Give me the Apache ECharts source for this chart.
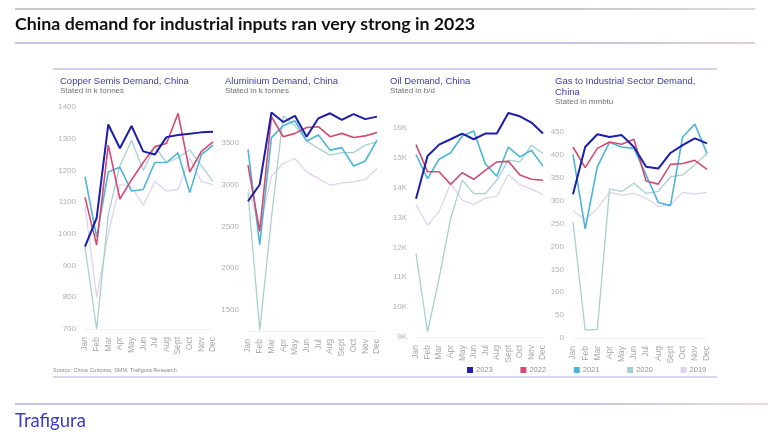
<!DOCTYPE html>
<html><head><meta charset="utf-8">
<script src="https://cdn.jsdelivr.net/npm/echarts@6/dist/echarts.min.js"></script>
<style>html,body{margin:0;padding:0;background:#fff}#c{width:768px;height:436px}</style>
</head><body><div id="c"></div>
<script>
const months = ['Jan','Feb','Mar','Apr','May','Jun','Jul','Aug','Sept','Oct','Nov','Dec'];
const years = ['2023','2022','2021','2020','2019'];
const colors = ['#1e1ea8','#d24b72','#4cb6d8','#a6d0d0','#e0d2ee'];
const widths = [2, 1.6, 1.6, 1.3, 1.3];

const copper2023 = [960,1050,1345,1270,1340,1260,1250,1305,1312,1316,1320,1322];
const copper2022 = [1115,965,1280,1110,1170,1225,1275,1285,1380,1195,1260,1290];
const copper2021 = [1180,990,1195,1210,1135,1140,1225,1225,1255,1130,1250,1280];
const copper2020 = [960,700,1060,1215,1295,1200,1275,1225,1240,1265,1215,1165];
const copper2019 = [1090,800,1000,1155,1150,1090,1165,1135,1140,1240,1165,1155];

const alu2023 = [2800,3000,3860,3745,3820,3570,3790,3850,3770,3840,3780,3810];
const alu2022 = [3230,2440,3810,3570,3610,3680,3690,3570,3610,3560,3580,3620];
const alu2021 = [3420,2280,3560,3700,3760,3520,3590,3410,3440,3220,3280,3530];
const alu2020 = [2900,1260,2600,3820,3700,3520,3430,3350,3380,3380,3470,3510];
const alu2019 = [2950,2500,3100,3250,3310,3150,3070,2990,3020,3030,3060,3190];

const oil2023 = [13630,15060,15440,15620,15810,15620,15810,15810,16500,16390,16180,15810];
const oil2022 = [15440,14530,14530,14110,14500,14280,14580,14860,14880,14420,14280,14250];
const oil2021 = [15110,14300,14950,15170,15730,15900,14800,14380,15360,15030,15250,14720];
const oil2020 = [11790,9170,10960,12960,14250,13800,13800,14250,14920,14860,15420,15140];
const oil2019 = [13430,12740,13190,14140,13580,13430,13650,13710,14440,14100,13950,13770];

const gas2023 = [314,417,445,439,443,417,374,370,404,421,436,425];
const gas2022 = [417,372,414,428,423,434,343,336,379,381,388,368];
const gas2021 = [401,238,374,427,417,414,356,296,289,439,467,403];
const gas2020 = [254,17,19,325,320,338,316,320,352,356,378,403];
const gas2019 = [278,258,283,318,312,316,305,287,291,318,314,318];

const panels = [
  {title:['Copper Semis Demand, China'], sub:'Stated in k tonnes', tx:60,
   grid:{left:85, top:107, width:128, height:222}, min:700, max:1400, interval:100, showMax:true,
   data:[copper2023,copper2022,copper2021,copper2020,copper2019]},
  {title:['Aluminium Demand, China'], sub:'Stated in k tonnes', tx:225,
   grid:{left:248, top:107, width:129, height:224}, min:1250, max:3925, split:5, hideMin:true,
   data:[alu2023,alu2022,alu2021,alu2020,alu2019]},
  {title:['Oil Demand, China'], sub:'Stated in b/d', tx:390,
   grid:{left:416, top:107, width:127, height:230}, min:9000, max:16700, interval:1000, k:true,
   data:[oil2023,oil2022,oil2021,oil2020,oil2019]},
  {title:['Gas to Industrial Sector Demand,','China'], sub:'Stated in mmbtu', tx:555,
   grid:{left:573, top:109, width:134, height:229}, min:0, max:500, interval:50,
   data:[gas2023,gas2022,gas2021,gas2020,gas2019]}
];

const grids=[], xAxes=[], yAxes=[], series=[], graphics=[];
panels.forEach((p,i)=>{
  grids.push(Object.assign({containLabel:false}, p.grid));
  xAxes.push({type:'category', gridIndex:i, data:months, boundaryGap:false,
    axisLine:{show:true, lineStyle:{color:'#f0f0f0'}}, axisTick:{show:false},
    axisLabel:{rotate:90, interval:0, fontSize:8.5, color:'#a8a8a8', margin:8, fontFamily:'Liberation Sans'},
    splitLine:{show:false}});
  const y = {type:'value', gridIndex:i, min:p.min, max:p.max,
    axisLine:{show:false}, axisTick:{show:false}, splitLine:{show:false},
    axisLabel:{fontSize:8, color:'#b0b0b0', margin:9, fontFamily:'Liberation Sans',
      showMinLabel: !p.hideMin, showMaxLabel: !!p.showMax,
      formatter: p.k ? (v=>(v/1000)+'K') : (v=>String(v))}};
  if (p.interval) y.interval = p.interval; else y.splitNumber = p.split;
  yAxes.push(y);
  for (let s=4; s>=0; s--) {
    series.push({name:years[s], type:'line', xAxisIndex:i, yAxisIndex:i, data:p.data[s],
      showSymbol:false, symbol:'none', z:10-s, color:colors[s],
      lineStyle:{width:widths[s], color:colors[s]}, emphasis:{disabled:true}, animation:false});
  }
  p.title.forEach((t,j)=>{
    graphics.push({type:'text', left:p.tx, top:76+j*11, style:{text:t, fontSize:9.5, fill:'#3c3ca8', fontFamily:'Liberation Sans'}});
  });
  graphics.push({type:'text', left:p.tx, top:76+p.title.length*11, style:{text:p.sub, fontSize:8, fill:'#707070', fontFamily:'Liberation Sans'}});
});

function hline(x1,x2,y,c1,c2,w){
  return {type:'line', shape:{x1:x1,y1:y,x2:x2,y2:y}, style:{lineWidth:w,
    stroke: c2 ? new echarts.graphic.LinearGradient(0,0,1,0,[{offset:0,color:c1},{offset:0.75,color:c1},{offset:1,color:c2}]) : c1}};
}
graphics.push(hline(15,755,9,'#b4b4bc','#d8ccc8',1.5));
graphics.push(hline(15,755,43,'#c4c4dc','#e4d0d0',2));
graphics.push(hline(53,717,69,'#d2d2ea',null,2));
graphics.push(hline(53,717,377,'#c8c8e6',null,1.5));
graphics.push(hline(15,768,404,'#c4c4e4','#f0dada',2));
graphics.push({type:'text', left:15, top:15, style:{text:'China demand for industrial inputs ran very strong in 2023', fontSize:17.8, fontWeight:'bold', fill:'#111', fontFamily:'Lato'}});
graphics.push({type:'text', left:15, top:412, style:{text:'Trafigura', fontSize:18.5, fill:'#3b3bd0', fontFamily:'Lato'}});
graphics.push({type:'text', left:53, top:367, style:{text:'Source: China Customs, SMM, Trafigura Research', fontSize:5.5, fill:'#8a8a8a', fontFamily:'Liberation Sans'}});

const chart = echarts.init(document.getElementById('c'), null, {renderer:'canvas'});
chart.setOption({
  animation:false,
  backgroundColor:'#ffffff',
  grid:grids, xAxis:xAxes, yAxis:yAxes, series:series,
  legend:{data:years, left:467, top:366, itemWidth:6, itemHeight:6, itemGap:27.7, icon:'rect',
    textStyle:{fontSize:7.5, color:'#909090', fontFamily:'Liberation Sans', padding:[0,0,0,-2]}, padding:0,
    selectedMode:false},
  graphic:graphics
});
</script></body></html>
